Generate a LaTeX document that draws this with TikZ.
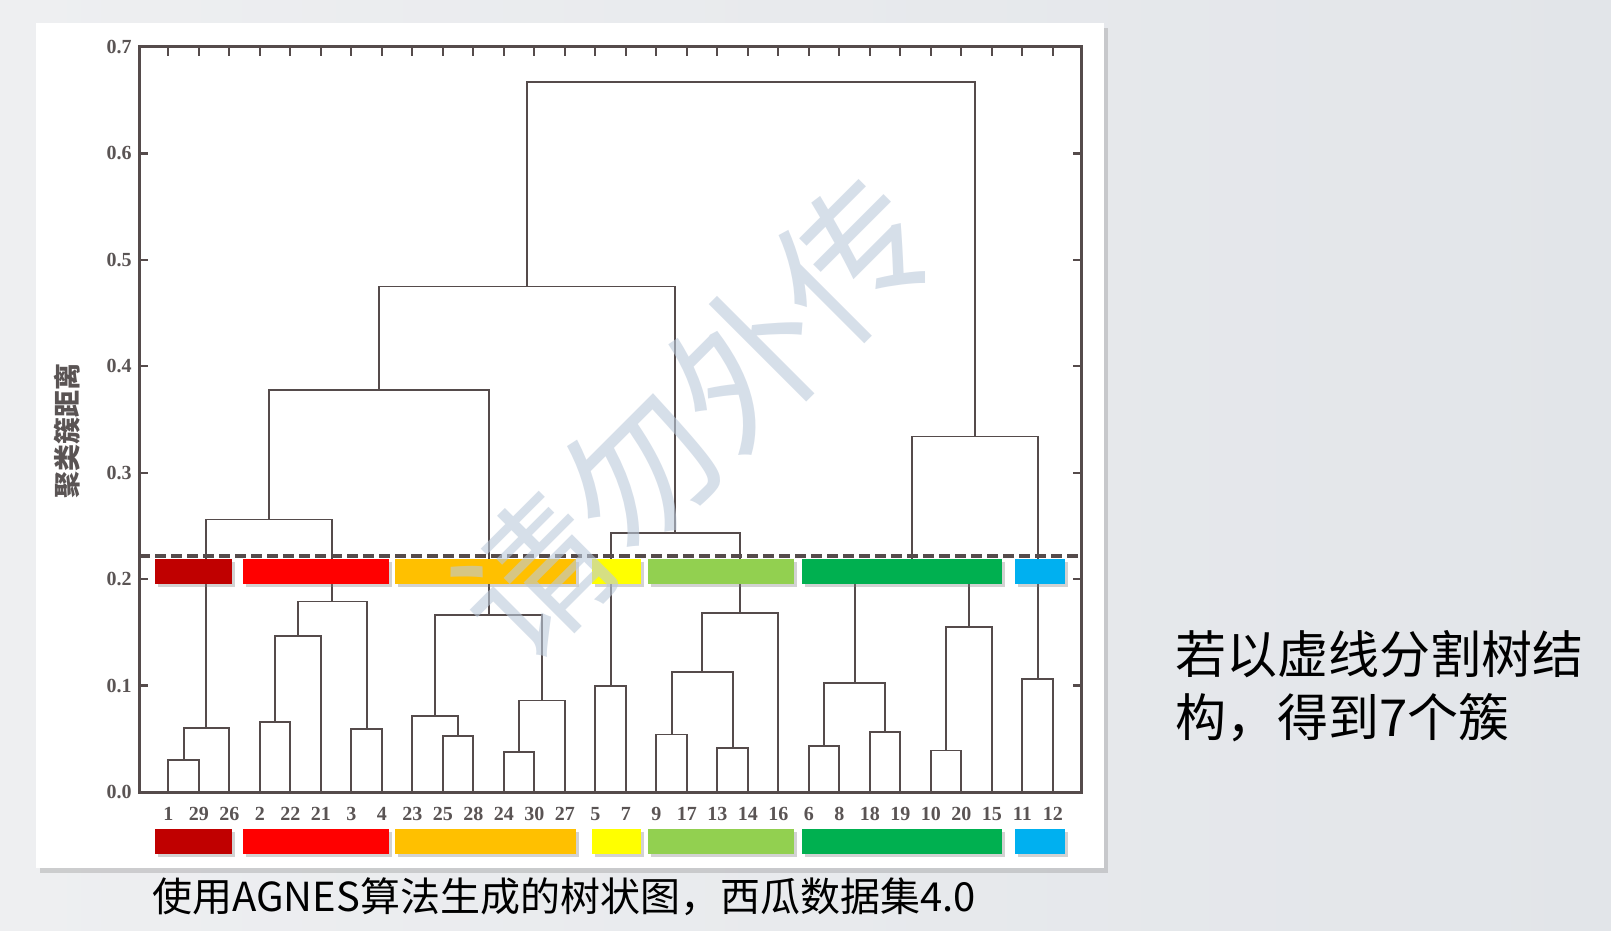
\documentclass[tikz,border=0pt]{standalone}
\usepackage{fontspec}
\setmainfont{Liberation Serif}
\newfontfamily\cjk{Noto Sans CJK SC}
\usetikzlibrary{positioning,shadows}

\definecolor{inkline}{HTML}{554B4B}
\definecolor{ticktext}{HTML}{5A5454}
\definecolor{cDarkRed}{HTML}{C00000}
\definecolor{cRed}{HTML}{FF0000}
\definecolor{cOrange}{HTML}{FFC000}
\definecolor{cYellow}{HTML}{FFFF00}
\definecolor{cLightGreen}{HTML}{92D050}
\definecolor{cGreen}{HTML}{00B050}
\definecolor{cBlue}{HTML}{00B0F0}
\definecolor{wmark}{HTML}{BCCADB}
\definecolor{slideA}{HTML}{EEEFF1}
\definecolor{slideB}{HTML}{E2E5E9}

\tikzset{
  dendro/.style={draw=inkline, line width=1.9pt},
  axisline/.style={draw=inkline, line width=3pt},
  tickmark/.style={draw=inkline, line width=2.2pt},
  ticklab/.style={text=ticktext, font=\fontsize{20}{20}\selectfont\bfseries, inner sep=0pt},
  leaflab/.style={text=ticktext, font=\fontsize{20}{20}\selectfont\bfseries, inner sep=0pt},
  clusterbar/.style={rectangle, minimum height=24.7pt, inner sep=0pt, draw=none,
    drop shadow={shadow xshift=3pt, shadow yshift=-3pt, opacity=0.35}},
}
% one link of the dendrogram: left x, left y, right x, right y, merge height
\newcommand{\merge}[5]{\draw[dendro] (#1,#2) |- (#3,#5) -- (#3,#4);}

\begin{document}
\begin{tikzpicture}[x=1pt, y=-1pt]
  \useasboundingbox (0,0) rectangle (1611,931);
  \shade[left color=slideA, right color=slideB] (0,0) rectangle (1611,931);

  % the pasted figure
  \path[fill=white, drop shadow={shadow xshift=4pt, shadow yshift=-5pt, opacity=0.3}]
    (36,23) rectangle (1104,868);

  \begin{scope}[shift={(168.3,792)}, x=30.5pt, y=1064.3pt]
    \draw[axisline] (-0.95,0) rectangle (29.95,0.7);
    \foreach \i in {0,...,29} {
      \draw[tickmark] (\i,0) -- ++(0,0.008);
      \draw[tickmark] (\i,0.7) -- ++(0,-0.008);
    }
    \foreach \v in {0,...,7} {
      \draw[tickmark] (-0.95,\v/10) -- ++(0.3,0);
      \draw[tickmark] (29.95,\v/10) -- ++(-0.3,0);
      \node[ticklab, anchor=east] (tick\v) at (-1.2,\v/10) {0.\v};
    }
    \foreach \lab [count=\k from 0] in {1,29,26,2,22,21,3,4,23,25,28,24,30,27,5,7,9,17,13,14,16,6,8,18,19,10,20,15,11,12}
      \node[leaflab] (leaf\lab) at (\k,-0.0207) {\lab};

    % cluster 1 29 26
    \merge{0}{0}{1}{0}{0.030}
    \merge{0.5}{0.030}{2}{0}{0.060}
    % cluster 2 22 21 3 4
    \merge{3}{0}{4}{0}{0.066}
    \merge{3.5}{0.066}{5}{0}{0.147}
    \merge{6}{0}{7}{0}{0.059}
    \merge{4.25}{0.147}{6.5}{0.059}{0.179}
    \merge{1.25}{0.060}{5.375}{0.179}{0.256}
    % cluster 23 ... 27
    \merge{9}{0}{10}{0}{0.053}
    \merge{8}{0}{9.5}{0.053}{0.071}
    \merge{11}{0}{12}{0}{0.038}
    \merge{11.5}{0.038}{13}{0}{0.086}
    \merge{8.75}{0.071}{12.25}{0.086}{0.166}
    \merge{3.3125}{0.256}{10.5}{0.166}{0.378}
    % clusters 5 7 and 9 ... 16
    \merge{14}{0}{15}{0}{0.100}
    \merge{16}{0}{17}{0}{0.054}
    \merge{18}{0}{19}{0}{0.041}
    \merge{16.5}{0.054}{18.5}{0.041}{0.113}
    \merge{17.5}{0.113}{20}{0}{0.168}
    \merge{14.5}{0.100}{18.75}{0.168}{0.243}
    \merge{6.906}{0.378}{16.625}{0.243}{0.475}
    % clusters 6 ... 15 and 11 12
    \merge{21}{0}{22}{0}{0.043}
    \merge{23}{0}{24}{0}{0.056}
    \merge{21.5}{0.043}{23.5}{0.056}{0.102}
    \merge{25}{0}{26}{0}{0.039}
    \merge{25.5}{0.039}{27}{0}{0.155}
    \merge{22.5}{0.102}{26.25}{0.155}{0.205}
    \merge{28}{0}{29}{0}{0.106}
    \merge{24.375}{0.205}{28.5}{0.106}{0.334}
    % root
    \merge{11.766}{0.475}{26.4375}{0.334}{0.667}

    \draw[draw=inkline, line width=3.2pt, dash pattern=on 11pt off 5pt]
      (-0.95,0.2217) -- (29.95,0.2217);
  \end{scope}

  % coloured cluster bars
  \foreach \cx/\w/\c [count=\k] in {193.35/76.7/cDarkRed, 316/145.4/cRed, 485.35/180.7/cOrange,
      616.2/49/cYellow, 721/145.4/cLightGreen, 902/200/cGreen, 1040.3/50/cBlue} {
    \node[clusterbar, fill=\c, minimum width=\w pt] (upbar\k) at (\cx,571.65) {};
    \node[clusterbar, fill=\c, minimum width=\w pt] (lowbar\k) at (\cx,841.65) {};
  }

  \node[rotate=90, text=ticktext, font=\cjk\bfseries\fontsize{27}{27}\selectfont] (ylab) at (67,431) {聚类簇距离};

  \node[rotate=45, text=wmark, opacity=0.6, font=\cjk\fontsize{150}{150}\selectfont] (wm) at (693,418) {请勿外传};

  \node[anchor=west, inner sep=0pt, font=\cjk\fontsize{40}{40}\selectfont] (caption) at (152,897)
    {使用AGNES算法生成的树状图，西瓜数据集4.0};
  \node[anchor=west, inner sep=0pt, align=left, font=\cjk\fontsize{51}{63}\selectfont] (note) at (1175,686.5)
    {若以虚线分割树结\\构，得到7个簇};
\end{tikzpicture}
\end{document}
